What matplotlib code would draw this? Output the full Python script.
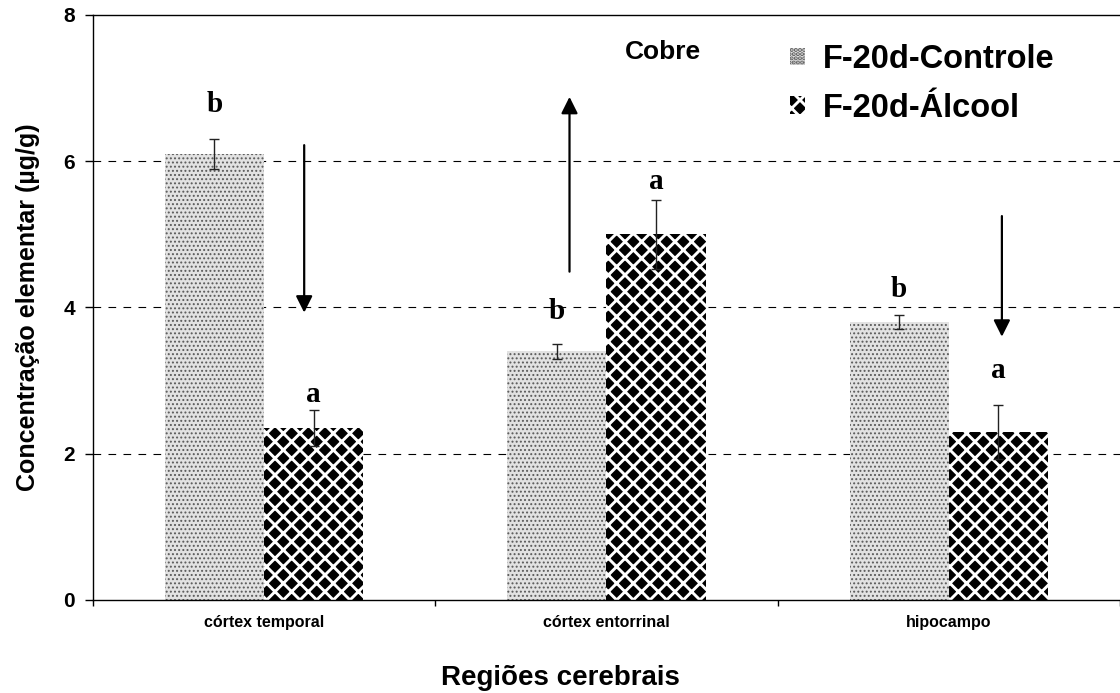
import numpy as np
import matplotlib
matplotlib.use('Agg')
import matplotlib.pyplot as plt

regioes = ['córtex temporal', 'córtex entorrinal', 'hipocampo']
controle = [6.1, 3.4, 3.8]
controle_err = [0.2, 0.1, 0.1]
alcool = [2.35, 5.0, 2.3]
alcool_err = [0.25, 0.47, 0.37]
letras_controle = ['b', 'b', 'b']
letras_alcool = ['a', 'a', 'a']
# altura (linha de base) das letras de significância
y_letras_controle = [6.67, 3.84, 4.14]
y_letras_alcool = [2.71, 5.62, 3.03]
# setas de tendência: deslocamento em x, início, fim
setas_dx = [0.117, -0.108, 0.155]
setas_y0 = [6.22, 4.49, 5.25]
setas_y1 = [3.93, 6.88, 3.60]

plt.rcParams['font.family'] = 'Liberation Sans'
plt.rcParams['font.weight'] = 'bold'

fig = plt.figure(figsize=(11.2, 6.93), dpi=100)
ax = fig.add_axes([0.083, 0.1342, 0.917, 0.8442])

x = np.arange(len(regioes))
w = 0.29

plt.rcParams['hatch.linewidth'] = 0.9
b1 = ax.bar(x - w / 2, controle, w, color='#e2e2e2', edgecolor='#5a5a5a',
            hatch='....', linewidth=0, label='F-20d-Controle', zorder=2)
plt.rcParams['hatch.linewidth'] = 2.1
b2 = ax.bar(x + w / 2, alcool, w, color='black', edgecolor='white',
            hatch='xx', linewidth=0, label='F-20d-Álcool', zorder=2)

ax.errorbar(x - w / 2, controle, yerr=controle_err, fmt='none', ecolor='#222222',
            elinewidth=1, capsize=3.6, capthick=1, zorder=3)
ax.errorbar(x + w / 2, alcool, yerr=alcool_err, fmt='none', ecolor='#222222',
            elinewidth=1, capsize=3.6, capthick=1, zorder=3)

for i in range(len(regioes)):
    ax.text(x[i] - w / 2, y_letras_controle[i], letras_controle[i], ha='center',
            va='baseline', fontsize=21, fontweight='bold', family='Liberation Serif')
    ax.text(x[i] + w / 2, y_letras_alcool[i], letras_alcool[i], ha='center',
            va='baseline', fontsize=21, fontweight='bold', family='Liberation Serif')
    ax.annotate('', xy=(x[i] + setas_dx[i], setas_y1[i]),
                xytext=(x[i] + setas_dx[i], setas_y0[i]),
                arrowprops=dict(arrowstyle='-|>', lw=1.6, color='black',
                                mutation_scale=25, shrinkA=0, shrinkB=0), zorder=4)

ax.text(1.165, 7.5, 'Cobre', ha='center', va='center', fontsize=19, fontweight='bold')

ax.set_xlim(-0.5, 2.5)
ax.set_ylim(0, 8)
ax.set_yticks([0, 2, 4, 6, 8])
ax.tick_params(axis='y', direction='out', length=6, width=1, pad=7, labelsize=15)
for yv in [2, 4, 6]:
    ax.axhline(yv, color='black', lw=0.8, dashes=(6.9, 6.6), zorder=1)

ax.set_xticks([-0.5, 0.5, 1.5, 2.5])
ax.set_xticklabels([])
ax.tick_params(axis='x', which='major', direction='out', length=4, width=1)
ax.set_xticks(x, minor=True)
ax.set_xticklabels(regioes, minor=True, fontsize=11.5, fontweight='bold')
ax.tick_params(axis='x', which='minor', length=0, pad=11)

ax.spines['right'].set_visible(False)
for s in ['left', 'bottom', 'top']:
    ax.spines[s].set_linewidth(1)

ax.set_ylabel('Concentração elementar (µg/g)', fontsize=18, fontweight='bold', labelpad=17)
ax.set_xlabel('Regiões cerebrais', fontsize=20, fontweight='bold', labelpad=25, x=0.455)

ax.legend(loc='upper left', bbox_to_anchor=(0.679, 0.950), frameon=False,
          prop={'size': 23.5, 'weight': 'bold'}, handlelength=0.46, handleheight=0.46,
          handletextpad=0.55, labelspacing=0.53, borderpad=0, borderaxespad=0)

fig.savefig('out.png', dpi=100)
